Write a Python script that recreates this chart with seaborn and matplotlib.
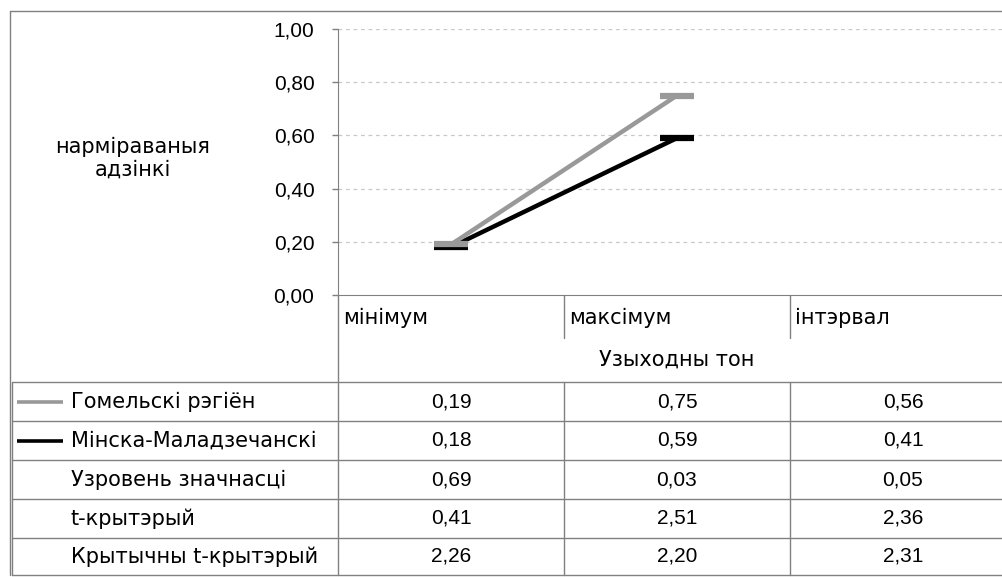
import numpy as np
import pandas as pd
import matplotlib
matplotlib.use("Agg")
import matplotlib.pyplot as plt
import seaborn as sns

# chart data
categories = ["мінімум", "максімум", "інтэрвал"]
axis_title = "Узыходны тон"
ylabel_text = "нарміраваныя\nадзінкі"
gomel = [0.19, 0.75, 0.56]
minsk = [0.18, 0.59, 0.41]
significance = [0.69, 0.03, 0.05]
t_value = [0.41, 2.51, 2.36]
t_critical = [2.26, 2.20, 2.31]
series_names = ["Гомельскі рэгіён", "Мінска-Маладзечанскі"]
row_names = ["Гомельскі рэгіён", "Мінска-Маладзечанскі", "Узровень значнасці",
             "t-крытэрый", "Крытычны t-крытэрый"]
plotted = ["мінімум", "максімум"]  # interval row is only in the table
yticks = [0.0, 0.2, 0.4, 0.6, 0.8, 1.0]

sns.set_style("white")
plt.rcParams["font.family"] = ["Liberation Sans", "DejaVu Sans"]
plt.rcParams["text.color"] = "black"
plt.rcParams["ytick.labelcolor"] = "black"
FS = 15
LABEL_FONT = dict(family=["DejaVu Sans"], fontsize=15, color="black")
GRAY = "#999999"
EDGE = "#808080"

W, H = 1002, 577
fig = plt.figure(figsize=(W / 100, H / 100), dpi=100)

# pixel layout
ax_left, ax_top, ax_bottom, col_w = 338, 29, 295, 226
ax = fig.add_axes([ax_left / W, 1 - ax_bottom / H, 3 * col_w / W, (ax_bottom - ax_top) / H])

rows = []
for name, vals in zip(series_names, [gomel, minsk]):
    for i, c in enumerate(categories):
        if c in plotted:
            rows.append({"region": name, "pos": i, "value": vals[i]})
df = pd.DataFrame(rows)

colors = {series_names[0]: GRAY, series_names[1]: "black"}
for name in [series_names[1], series_names[0]]:
    sub = df[df["region"] == name]
    sns.lineplot(data=sub, x="pos", y="value", ax=ax, color=colors[name],
                 linewidth=3.2, marker="_", markersize=24, markeredgewidth=4.5,
                 markeredgecolor=colors[name], legend=False)

ax.set_xlim(-0.5, len(categories) - 0.5)
ax.set_ylim(0, 1.0)
ax.set_yticks(yticks)
ax.set_yticklabels([f"{v:.2f}".replace(".", ",") for v in yticks], fontsize=FS, color="black")
ax.set_xticks([])
ax.set_xlabel("")
ax.set_ylabel("")
ax.tick_params(axis="y", length=4, width=1, color=EDGE, pad=13, left=True)
for y in yticks[1:]:
    ax.axhline(y, color="#c8c8c8", linewidth=0.9, linestyle=(0, (3, 3)), zorder=0)
ax.spines["top"].set_visible(False)
ax.spines["right"].set_visible(False)
ax.spines["left"].set_color(EDGE)
ax.spines["bottom"].set_color(EDGE)
ax.patch.set_alpha(0)

# overlay in pixel coordinates for the frame and data table
ov = fig.add_axes([0, 0, 1, 1], zorder=-1)
ov.set_xlim(0, W)
ov.set_ylim(H, 0)
ov.axis("off")
lk = dict(color=EDGE, linewidth=1)

ov.plot([10, W], [11, 11], **lk)
ov.plot([10, 10], [11, 575], **lk)
ov.plot([ax_left, ax_left], [ax_bottom, 575], **lk)
row_lines = [382, 421, 460, 499, 538, 575]
for y in row_lines:
    ov.plot([12, W], [y, y], **lk)
ov.plot([12, 12], [382, 575], **lk)
for i in range(1, len(categories)):
    x = ax_left + i * col_w
    ov.plot([x, x], [ax_bottom, 338], **lk)
    ov.plot([x, x], [382, 575], **lk)

ov.text(133, 158, ylabel_text, ha="center", va="center", linespacing=1.15, **LABEL_FONT)
for i, c in enumerate(categories):
    ov.text(ax_left + i * col_w + 5, 318, c, ha="left", va="center", **LABEL_FONT)
ov.text(ax_left + 1.5 * col_w, 360, axis_title, ha="center", va="center", **LABEL_FONT)

table_rows = [gomel, minsk, significance, t_value, t_critical]
for r, (name, vals) in enumerate(zip(row_names, table_rows)):
    yc = (row_lines[r] + row_lines[r + 1]) / 2
    ov.text(71, yc, name, ha="left", va="center", **LABEL_FONT)
    if r < 2:
        ov.plot([17, 63], [yc, yc], color=[GRAY, "black"][r], linewidth=2.6,
                solid_capstyle="butt")
    for i, v in enumerate(vals):
        ov.text(ax_left + (i + 0.5) * col_w, yc, f"{v:.2f}".replace(".", ","),
                ha="center", va="center", fontsize=FS, color="black")

fig.savefig("out.png", dpi=100)
